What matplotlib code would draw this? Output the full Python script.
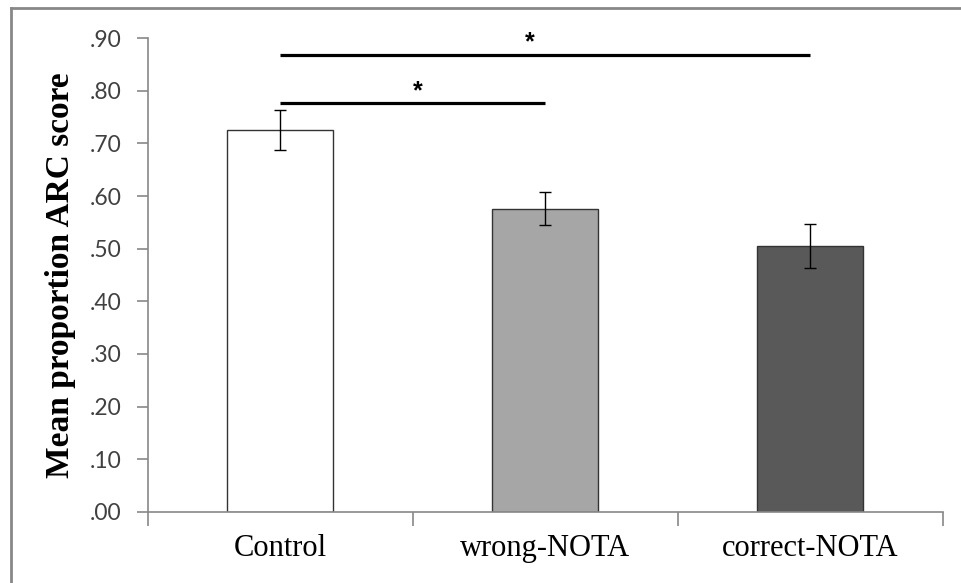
import matplotlib.pyplot as plt
from matplotlib.lines import Line2D
from matplotlib.ticker import FuncFormatter, FixedLocator

# Values
groups = ["Control", "wrong-NOTA", "correct-NOTA"]
means = [0.725, 0.576, 0.505]
errors = [0.038, 0.031, 0.041]
bar_colors = ["#ffffff", "#a6a6a6", "#595959"]

# Significance brackets: (from, to, height, star x, star y)
sig_from = [0, 0]
sig_to = [1, 2]
sig_height = [0.776, 0.867]
star_x = [0.52, 0.94]
star_y = [0.799, 0.892]

fig = plt.figure(figsize=(9.61, 5.83), dpi=100)
ax = fig.add_axes([0.154, 0.1218, 0.827, 0.813])

x = range(len(groups))
ax.bar(x, means, width=0.4, color=bar_colors, edgecolor="#333333", linewidth=1.0,
       yerr=errors, capsize=4, error_kw=dict(ecolor="black", elinewidth=1.0, capthick=1.0),
       zorder=2)

for a, b, h in zip(sig_from, sig_to, sig_height):
    ax.plot([a, b], [h, h], color="black", linewidth=2.3, solid_capstyle="butt", zorder=3)
for sx, sy in zip(star_x, star_y):
    ax.text(sx, sy, "*", ha="center", va="center", fontsize=18, fontweight="bold",
            family="Liberation Sans")

ax.set_xlim(-0.5, 2.5)
ax.set_ylim(0, 0.9)
ax.set_yticks([i / 10 for i in range(10)])
ax.yaxis.set_major_formatter(FuncFormatter(lambda v, p: f"{v:.2f}"[1:] if v < 1 else f"{v:.2f}"))

ax.set_xticks(list(x))
ax.set_xticklabels(groups, family="Liberation Serif", fontsize=22)
ax.xaxis.set_minor_locator(FixedLocator([-0.5, 0.5, 1.5, 2.5]))
ax.tick_params(axis="x", which="major", length=0, pad=16)
ax.tick_params(axis="x", which="minor", length=10, color="#888888", width=1.2)
ax.tick_params(axis="y", length=8, color="#888888", width=1.2, pad=11, labelsize=16.5,
               labelcolor="#404040")
for lbl in ax.get_yticklabels():
    lbl.set_family("Lato")

for side in ["top", "right"]:
    ax.spines[side].set_visible(False)
for side in ["left", "bottom"]:
    ax.spines[side].set_color("#888888")
    ax.spines[side].set_linewidth(1.2)

ax.set_ylabel("Mean proportion ARC score", family="Liberation Serif", fontweight="bold",
              fontsize=24, labelpad=10)

# grey frame of the original chart area
fig.add_artist(Line2D([0.0114, 1.0], [0.986, 0.986], transform=fig.transFigure,
                      color="#888888", linewidth=2))
fig.add_artist(Line2D([0.0114, 0.0114], [0.0, 0.986], transform=fig.transFigure,
                      color="#888888", linewidth=2))

fig.savefig("out.png", dpi=100)
